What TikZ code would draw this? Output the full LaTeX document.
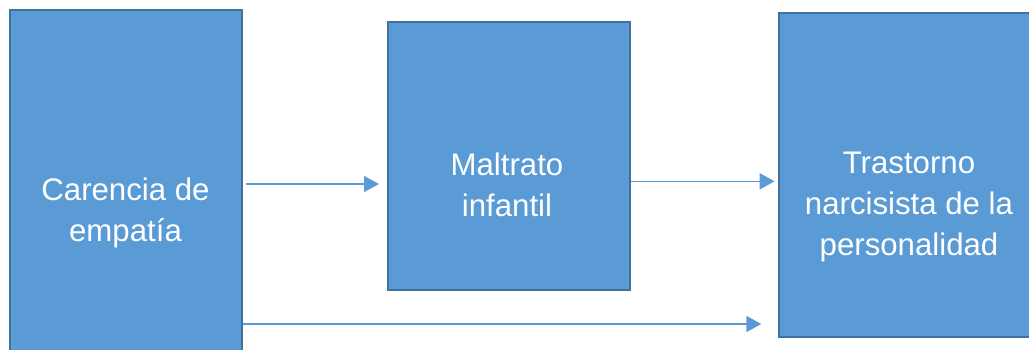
\documentclass[tikz,border=0pt]{standalone}
\usepackage{fontspec}
\setmainfont{Liberation Sans}
\usetikzlibrary{arrows.meta,calc}
\definecolor{boxfill}{HTML}{5B9BD5}
\definecolor{boxline}{HTML}{41719C}
\begin{document}
\begin{tikzpicture}[x=0.75pt,y=-0.75pt,
  box/.style={draw=boxline,fill=boxfill,line width=1.5pt,rectangle,inner sep=0pt},
  lbl/.style={text=white,align=center,font=\fontsize{23.4pt}{30.75pt}\selectfont,anchor=base,inner sep=0pt},
  arr/.style={draw=boxfill,line width=1.1pt,-{Triangle[length=11.25pt,width=12pt]}}]
\useasboundingbox (0,0) rectangle (1029,350);
\clip (0,0) rectangle (1029,350);
\node[box,minimum width=232*0.75pt,minimum height=404*0.75pt] (b1) at (125.5,212) {};
\node[box,minimum width=242*0.75pt,minimum height=268*0.75pt] (b2) at (509,156) {};
\node[box,minimum width=260*0.75pt,minimum height=323.5*0.75pt] (b3) at (909,174.75) {};
\node[lbl] (t1) at (125.5,241) {Carencia de\\empatía};
\node[lbl] (t2) at (507,216.7) {Maltrato\\infantil};
\node[lbl] (t3) at (909,255) {Trastorno\\narcisista de la\\personalidad};
\draw[arr] ([xshift=2.5pt]b1.east |- 0,184) -- ([xshift=-6pt]b2.west |- 0,184);
\draw[arr] ([xshift=0pt]b2.east |- 0,181.3) -- ([xshift=-2.5pt]b3.west |- 0,181.3);
\draw[arr] ([xshift=0pt]b1.east |- 0,324) -- ([xshift=-12.5pt]b3.west |- 0,324);
\end{tikzpicture}
\end{document}
